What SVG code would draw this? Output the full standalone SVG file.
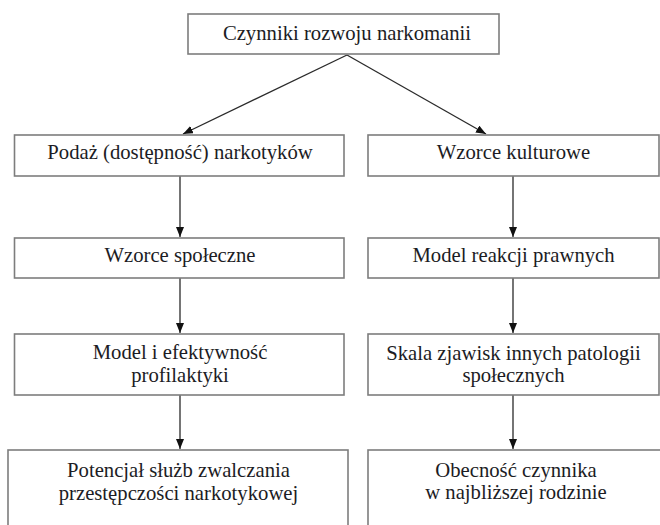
<svg xmlns="http://www.w3.org/2000/svg" width="660" height="525" viewBox="0 0 660 525">
<style>
.box{fill:#fff;stroke:#7d7d7d;stroke-width:1.6}
.t{font-family:"Liberation Serif","Times New Roman",serif;font-size:20.7px;fill:#1c1c24;text-anchor:middle}
.c{stroke:#2a2a2a;stroke-width:1.3;fill:none;marker-end:url(#ah)}
</style>
<defs>
<marker id="ah" viewBox="0 0 10 8" refX="10" refY="4" markerWidth="10" markerHeight="8" markerUnits="userSpaceOnUse" orient="auto">
<path d="M0,0 L10,4 L0,8 Z" fill="#111"/>
</marker>
</defs>
<rect width="660" height="525" fill="#fff"/>
<g id="connectors">
<line class="c" x1="347" y1="55" x2="183" y2="134"/>
<line class="c" x1="347" y1="55" x2="486" y2="134"/>
<line class="c" x1="180" y1="176" x2="180" y2="237"/>
<line class="c" x1="180" y1="278" x2="180" y2="333"/>
<line class="c" x1="180" y1="395" x2="180" y2="449"/>
<line class="c" x1="513" y1="176" x2="513" y2="237"/>
<line class="c" x1="513" y1="278" x2="513" y2="333"/>
<line class="c" x1="513" y1="395" x2="513" y2="449"/>
</g>
<g id="n0"><rect class="box" x="188" y="14" width="311" height="40"/><text class="t" x="347" y="40">Czynniki rozwoju narkomanii</text></g>
<g id="l1"><rect class="box" x="14.5" y="135" width="329.5" height="41"/><text class="t" x="180" y="159">Podaż (dostępność) narkotyków</text></g>
<g id="l2"><rect class="box" x="14.5" y="238" width="329.5" height="40"/><text class="t" x="180" y="262">Wzorce społeczne</text></g>
<g id="l3"><rect class="box" x="14.5" y="334" width="329.5" height="61"/><text class="t" x="180" y="359">Model i efektywność</text><text class="t" x="180" y="382">profilaktyki</text></g>
<g id="l4"><rect class="box" x="8" y="450" width="340" height="90"/><text class="t" x="178.5" y="477">Potencjał służb zwalczania</text><text class="t" x="178.5" y="500">przestępczości narkotykowej</text></g>
<g id="r1"><rect class="box" x="368" y="135" width="291" height="41"/><text class="t" x="513.5" y="159">Wzorce kulturowe</text></g>
<g id="r2"><rect class="box" x="368" y="238" width="291" height="40"/><text class="t" x="513.5" y="262">Model reakcji prawnych</text></g>
<g id="r3"><rect class="box" x="368" y="334" width="291" height="61"/><text class="t" x="513.5" y="360">Skala zjawisk innych patologii</text><text class="t" x="513.5" y="382">społecznych</text></g>
<g id="r4"><rect class="box" x="368" y="450" width="300" height="90"/><text class="t" x="516" y="477">Obecność czynnika</text><text class="t" x="516" y="499">w najbliższej rodzinie</text></g>
</svg>
